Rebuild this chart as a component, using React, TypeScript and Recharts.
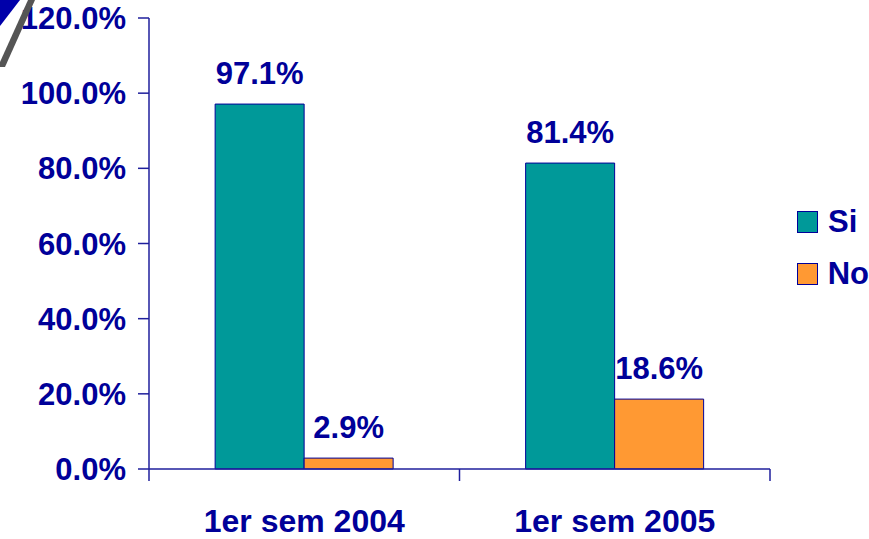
import { Bar, BarChart, LabelList, Legend, XAxis, YAxis } from "recharts";

const categories = ["1er sem 2004", "1er sem 2005"];
const siValues = [97.1, 81.4];
const noValues = [2.9, 18.6];
const yTicks = [0, 20, 40, 60, 80, 100, 120];
const seriesOrder = ["Si", "No"];

const data = categories.map((name, i) => ({
  name,
  Si: siValues[i],
  No: noValues[i],
}));

const W = 869;
const H = 539;
const margin = { top: 18, right: 99, bottom: 0, left: 0 };
const yAxisWidth = 149;
const plotWidth = W - margin.left - margin.right - yAxisWidth;
const band = plotWidth / categories.length;

const blue = "#000099";
const axisColor = "#1f1f9c";
const font = "'Liberation Sans', Arial, sans-serif";

const pct = (v: any) => `${Number(v).toFixed(1)}%`;

function CategoryTick(props: any) {
  const { x, y, payload, index } = props;
  return (
    <g>
      {index === 0 && (
        <line x1={x - band / 2} y1={y} x2={x - band / 2} y2={y + 12} stroke={axisColor} strokeWidth={1.5} />
      )}
      <line x1={x + band / 2} y1={y} x2={x + band / 2} y2={y + 12} stroke={axisColor} strokeWidth={1.5} />
      <text x={x} y={y + 63} textAnchor="middle" fill={blue} fontSize={32} fontWeight="bold" fontFamily={font}>
        {payload.value}
      </text>
    </g>
  );
}

function LegendContent(props: any) {
  const items = [...(props.payload || [])].sort(
    (a: any, b: any) => seriesOrder.indexOf(a.value) - seriesOrder.indexOf(b.value)
  );
  return (
    <div>
      {items.map((p: any) => (
        <div key={p.value} style={{ display: "flex", alignItems: "center", height: 52 }}>
          <div
            style={{
              width: 19,
              height: 20,
              background: p.color,
              border: `1.5px solid ${blue}`,
              marginRight: 10,
            }}
          />
          <span style={{ color: blue, fontSize: 31, fontWeight: "bold", fontFamily: font }}>{p.value}</span>
        </div>
      ))}
    </div>
  );
}

export default function App() {
  return (
    <div style={{ position: "absolute", left: 0, top: 0, width: W, height: H, background: "#fff" }}>
      <BarChart width={W} height={H} data={data} margin={margin} barCategoryGap="21.3%" barGap={0}>
        <XAxis
          dataKey="name"
          height={70}
          stroke={axisColor}
          strokeWidth={1.5}
          tickLine={false}
          tickSize={0}
          tickMargin={0}
          tick={<CategoryTick />}
          interval={0}
        />
        <YAxis
          width={yAxisWidth}
          domain={[0, 120]}
          ticks={yTicks}
          tickFormatter={pct}
          stroke={axisColor}
          strokeWidth={1.5}
          tickSize={11}
          tickMargin={12}
          tick={{ fill: blue, fontSize: 31, fontWeight: "bold", fontFamily: font }}
        />
        <Legend
          layout="vertical"
          align="center"
          verticalAlign="middle"
          content={<LegendContent />}
          wrapperStyle={{ left: 797, top: 196, width: 72 }}
        />
        <Bar dataKey="Si" fill="#009999" stroke={blue} strokeWidth={1} isAnimationActive={false}>
          <LabelList
            dataKey="Si"
            position="top"
            offset={20}
            formatter={pct}
            fill={blue}
            fontSize={31}
            fontWeight="bold"
            fontFamily={font}
          />
        </Bar>
        <Bar dataKey="No" fill="#ff9933" stroke={blue} strokeWidth={1} isAnimationActive={false}>
          <LabelList
            dataKey="No"
            position="top"
            offset={20}
            formatter={pct}
            fill={blue}
            fontSize={31}
            fontWeight="bold"
            fontFamily={font}
          />
        </Bar>
      </BarChart>
      <svg width={60} height={80} style={{ position: "absolute", left: 0, top: 0 }}>
        <polygon points="0,0 20,0 0,26" fill="#0000aa" />
        <polygon points="28,0 35,0 5,67 0,67 0,62" fill="#555" />
      </svg>
    </div>
  );
}
